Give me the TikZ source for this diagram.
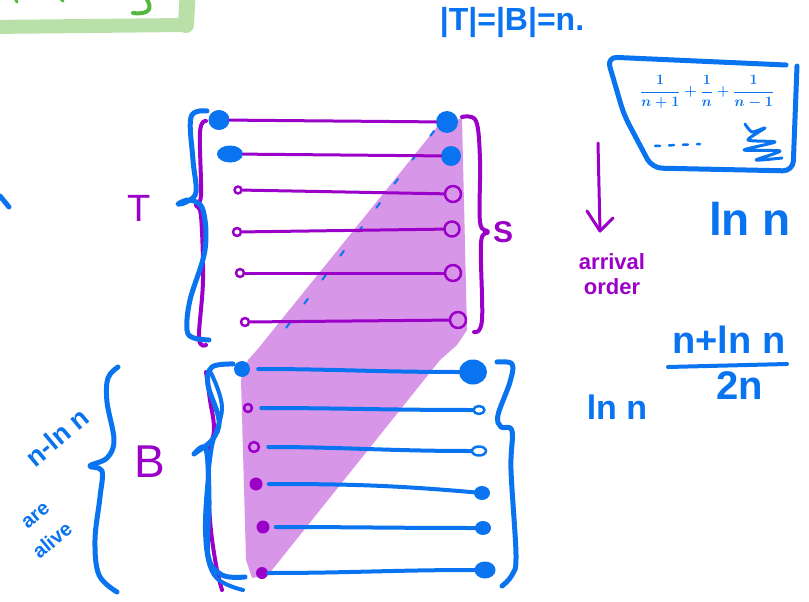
\documentclass[tikz,border=0pt]{standalone}
\usepackage{fontspec}
\setmainfont{Liberation Sans}
\usetikzlibrary{shapes.geometric}
\definecolor{pen}{RGB}{10,116,240}
\definecolor{pur}{RGB}{155,0,200}
\definecolor{lav}{RGB}{216,150,232}
\definecolor{lgreen}{RGB}{186,224,170}
\definecolor{dgreen}{RGB}{84,184,62}
\begin{document}
\begin{tikzpicture}[x=1pt,y=-1pt,line cap=round,line join=round,
  bl/.style={draw=pen,line width=5pt},
  blt/.style={draw=pen,line width=4pt},
  pl/.style={draw=pur,line width=3pt},
  bdot/.style={ellipse,fill=pen,inner sep=0pt},
  pring/.style={circle,draw=pur,line width=2.5pt,inner sep=0pt},
  bring/.style={ellipse,draw=pen,line width=2.5pt,inner sep=0pt},
  pdot/.style={circle,fill=pur,inner sep=0pt},
  btxt/.style={text=pen,inner sep=0pt,font=\bfseries},
  ptxt/.style={text=pur,inner sep=0pt}]
\useasboundingbox (0,0) rectangle (809,602);
\fill[white] (0,0) rectangle (809,602);

% green fragment top-left
\draw[lgreen,line width=14pt,line cap=butt] (-10,27) -- (186,25);
\draw[lgreen,line width=16pt,line cap=round] (186,25) -- (188,-12);
\draw[dgreen,line width=4pt] (146,-2) .. controls (153,8) and (150,15) .. (133,13);
\draw[dgreen,line width=3pt] (15,-2) -- (17,2);
\draw[dgreen,line width=3pt] (60,-2) -- (63,1);

% shaded region
\fill[lav] (437,127) -- (462,118) -- (467,330) -- (457,345) -- (440,360)
  -- (268,575) -- (252,578) -- (246,560) -- (241,380) -- (248,360) -- (257,350) -- cycle;
\draw[pen,line width=2pt,dash pattern=on 6pt off 24pt] (434,131) -- (286,328);

% top group dots
\node[bdot,minimum width=21pt,minimum height=20pt] (t1l) at (219,120) {};
\node[bdot,minimum width=22pt,minimum height=22pt] (t1r) at (447,122) {};
\node[bdot,minimum width=26pt,minimum height=17pt] (t2l) at (230,154) {};
\node[bdot,minimum width=20pt,minimum height=20pt] (t2r) at (451,156) {};
\node[pring,minimum size=7pt] (t3l) at (238,190) {};
\node[pring,minimum size=16pt] (t3r) at (453,194) {};
\node[pring,minimum size=8pt] (t4l) at (237,232) {};
\node[pring,minimum size=15pt] (t4r) at (452,229) {};
\node[pring,minimum size=8pt] (t5l) at (240,273) {};
\node[pring,minimum size=16pt] (t5r) at (453,273) {};
\node[pring,minimum size=8pt] (t6l) at (245,322) {};
\node[pring,minimum size=16pt] (t6r) at (458,320) {};
\draw[pl] (t1l) -- (t1r);
\draw[pl] (t2l) -- (t2r);
\draw[pl] (t3l) -- (t3r);
\draw[pl] (t4l) -- (t4r);
\draw[pl] (t5l) -- (t5r);
\draw[pl] (t6l) -- (t6r);

% bottom group dots
\node[bdot,minimum width=16pt,minimum height=16pt] (b1l) at (242,369) {};
\node[bdot,minimum width=28pt,minimum height=25pt] (b1r) at (473,372) {};
\node[pring,minimum size=8pt] (b2l) at (248,408) {};
\node[bring,minimum width=11pt,minimum height=8pt] (b2r) at (479,410) {};
\node[pring,minimum size=10pt] (b3l) at (254,447) {};
\node[bring,minimum width=14pt,minimum height=9pt] (b3r) at (479,451) {};
\node[pdot,minimum size=13pt] (b4l) at (256,484) {};
\node[bdot,minimum width=16pt,minimum height=14pt] (b4r) at (482,493) {};
\node[pdot,minimum size=13pt] (b5l) at (263,527) {};
\node[bdot,minimum width=16pt,minimum height=14pt] (b5r) at (483,528) {};
\node[pdot,minimum size=12pt] (b6l) at (262,573) {};
\node[bdot,minimum width=21pt,minimum height=17pt] (b6r) at (485,570) {};
\draw[blt,shorten <=8pt] (b1l) to[out=0,in=180] (b1r);
\draw[blt,shorten <=8pt] (b2l) to[out=0,in=180] (b2r);
\draw[blt,shorten <=8pt] (b3l) to[out=0,in=180] (b3r);
\draw[blt,shorten <=6pt] (b4l) to[out=0,in=175] (b4r);
\draw[blt,shorten <=6pt] (b5l) to[out=0,in=180] (b5r);
\draw[blt] (b6l) to[out=0,in=180] (b6r);

% braces of top group
\draw[pur,line width=4pt] plot[smooth,tension=0.6] coordinates
  {(206,121) (200,132) (201,195) (196,205) (201,216) (203,280) (199,338) (206,345)};
\draw[bl] plot[smooth,tension=0.6] coordinates
  {(207,111) (191,117) (193,160) (196,192) (186,202) (178,204) (190,200) (203,210)
   (205,250) (190,300) (187,330) (194,338) (209,340)};
\draw[pl,line width=4pt] plot[smooth,tension=0.6] coordinates
  {(462,117) (476,121) (480,160) (480,222) (488,232) (481,243) (482,320) (474,332)};

% braces of bottom group
\draw[pur,line width=4pt] plot[smooth,tension=0.6] coordinates
  {(206,372) (210,400) (214,430) (208,460) (210,520) (216,565) (222,590)};
\draw[bl] plot[smooth,tension=0.6] coordinates
  {(233,364) (212,367) (208,385) (219,420) (212,440) (194,454) (206,449) (209,500)
   (208,555) (222,575) (245,577)};
\draw[blt] plot[smooth,tension=0.6] coordinates
  {(211,373) (222,408) (211,452) (205,530) (214,575) (243,590)};
\draw[bl] plot[smooth,tension=0.6] coordinates
  {(497,362) (512,364) (510,382) (498,415) (501,427) (512,431) (511,470) (516,555)
   (512,575) (502,586)};

% big left brace
\draw[bl] plot[smooth,tension=0.6] coordinates
  {(118,367) (108,378) (107,402) (114,440) (107,458) (90,466) (102,471) (100,497)
   (95,540) (99,575) (117,592)};
\draw[bl] (0,196) -- (9,207);

% labels near groups
\node[ptxt,font=\fontsize{38}{40}\selectfont] (lT) at (139,208) {T};
\node[ptxt,font=\bfseries\fontsize{30}{34}\selectfont] (lS) at (503,232) {S};
\node[ptxt,font=\fontsize{46}{48}\selectfont] (lB) at (150,462) {B};
\node[btxt,font=\bfseries\fontsize{27}{28}\selectfont,rotate=40] (nln) at (57,437) {n-ln n};
\node[btxt,font=\bfseries\fontsize{20}{20}\selectfont,rotate=40] (are) at (36,516) {are};
\node[btxt,font=\bfseries\fontsize{20}{20}\selectfont,rotate=40] (alive) at (52,540) {alive};

% top text
\node[btxt,font=\bfseries\fontsize{32}{34}\selectfont] (card) at (512,22) {|T|=|B|=n.};

% box with harmonic sum
\draw[bl,rounded corners=10pt] (786,65) -- (607,57) -- (624,115) -- (652,168) -- (793,171) -- (797,66);
\node[btxt,font=\boldmath\fontsize{15}{18}\selectfont] (sum) at (707,92)
  {$\displaystyle \frac{1}{n+1}+\frac{1}{n}+\frac{1}{n-1}$};
\draw[pen,line width=2.5pt,dash pattern=on 5pt off 9pt] (655,146) -- (700,144);
\draw[pen,line width=3pt] plot[smooth,tension=0.4] coordinates
  {(745,124) (752,132) (765,128) (748,140) (775,142) (744,150) (780,151) (756,160) (782,158)};

% arrow and arrival order
\coordinate (a0) at (598,143);
\coordinate (a1) at (600,231);
\draw[pl] (a0) -- (a1);
\draw[pl] (587,211) -- (a1) -- (613,218);
\node[ptxt,font=\bfseries\fontsize{22}{25}\selectfont,align=center] (arr) at (612,274) {arrival\\order};

% ln n labels
\node[btxt,font=\bfseries\fontsize{46}{48}\selectfont] (ln1) at (750,219) {ln n};
\node[btxt,font=\bfseries\fontsize{34}{36}\selectfont] (ln2) at (617,407) {ln n};
\node[btxt,font=\bfseries\fontsize{38}{40}\selectfont] (num) at (729,340) {n+ln n};
\node[btxt,font=\bfseries\fontsize{40}{42}\selectfont] (den) at (740,386) {2n};
\draw[pen,line width=4pt] (668,367) -- (787,364);
\end{tikzpicture}
\end{document}
